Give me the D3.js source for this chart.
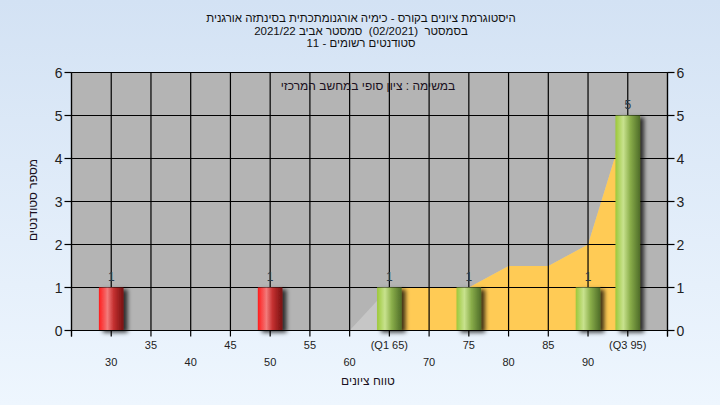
<!DOCTYPE html>
<html><head><meta charset="utf-8">
<script src="https://cdn.jsdelivr.net/npm/d3@7"></script>
<style>body{margin:0}svg{display:block}text{font-family:"Liberation Sans",Arial,sans-serif;white-space:pre}</style>
</head><body><svg width="720" height="405"></svg>
<script>
const titleLines = ["היסטוגרמת ציונים בקורס - כימיה אורגנומתכתית בסינתזה אורגנית", "בסמסטר  (02/2021)  סמסטר אביב 2021/22", "סטודנטים רשומים - 11"];
const noteText = "במשימה : ציון סופי במחשב המרכזי";
const xTitle = "טווח ציונים";
const yTitle = "מספר סטודנטים";
const tickValues = [30,35,40,45,50,55,60,65,70,75,80,85,90,95];
const tickLabels = ["30","35","40","45","50","55","60","(Q1 65)","70","75","80","85","90","(Q3 95)"];
const barGrades = [30,50,65,75,90,95];
const barCounts = [1,1,1,1,1,5];
const barKinds = ["red","red","green","green","green","green"];
const grayGrades = [60,65,70,75,80,85,90,95];
const grayValues = [0,1,1,1,1.5,1.5,2,5];
const iqrGrades = [65,70,75,80,85,90,95];
const iqrValues = [1,1,1,1.5,1.5,2,5];
const yTicks = [0,1,2,3,4,5,6];

const svg = d3.select("svg");
const W = 720, H = 405;
const defs = svg.append("defs");
const bg = defs.append("linearGradient").attr("id","bg").attr("x1",0).attr("y1",0).attr("x2",0).attr("y2",1);
bg.append("stop").attr("offset",0).attr("stop-color","#d3e2f4");
bg.append("stop").attr("offset",1).attr("stop-color","#eef6fe");
const gr = defs.append("linearGradient").attr("id","red");
[[0,"#ff1c1c"],[0.35,"#f27a7a"],[0.6,"#c43030"],[1,"#761010"]].forEach(s=>gr.append("stop").attr("offset",s[0]).attr("stop-color",s[1]));
const gg = defs.append("linearGradient").attr("id","green");
[[0,"#9cc83a"],[0.32,"#c8e28e"],[0.6,"#8aae4a"],[1,"#4e6c28"]].forEach(s=>gg.append("stop").attr("offset",s[0]).attr("stop-color",s[1]));
const f = defs.append("filter").attr("id","sh").attr("x","-20%").attr("y","-20%").attr("width","160%").attr("height","140%");
f.append("feDropShadow").attr("dx",4).attr("dy",2).attr("stdDeviation",2).attr("flood-color","#000").attr("flood-opacity",0.75);

svg.append("rect").attr("width",W).attr("height",H).attr("fill","url(#bg)");

const x = d3.scaleLinear().domain([25,100]).range([71.5,667.5]);
const y = d3.scaleLinear().domain([0,6]).range([330.5,72.5]);

svg.append("rect").attr("x",x(25)).attr("y",y(6)).attr("width",x(100)-x(25)).attr("height",y(0)-y(6)).attr("fill","#b4b4b4");

const area = d3.area().x(d=>x(d[0])).y0(y(0)).y1(d=>y(d[1]));
svg.append("path").attr("d",area(grayGrades.map((g,i)=>[g,grayValues[i]]))).attr("fill","#c6c6c6");
svg.append("path").attr("d",area(iqrGrades.map((g,i)=>[g,iqrValues[i]]))).attr("fill","#ffcb55");

const grid = svg.append("g").attr("stroke","#000").attr("stroke-width",1.2);
d3.range(25,101,5).forEach(v=>grid.append("line").attr("x1",x(v)).attr("x2",x(v)).attr("y1",y(6)).attr("y2",y(0)));
yTicks.forEach(v=>grid.append("line").attr("x1",x(25)).attr("x2",x(100)).attr("y1",y(v)).attr("y2",y(v)));

svg.append("text").attr("x",368).attr("y",90).attr("text-anchor","middle").attr("direction","rtl").attr("font-size",12).attr("fill","#1a1020").text(noteText);

const bw = (x(5)-x(0))*0.62;
const bars = svg.append("g");
barGrades.forEach((g,i)=>{
  bars.append("rect").attr("x",x(g)-bw/2).attr("y",y(barCounts[i])).attr("width",bw).attr("height",y(0)-y(barCounts[i]))
    .attr("fill",`url(#${barKinds[i]})`).attr("filter","url(#sh)");
  svg.append("text").attr("x",x(g)).attr("y",y(barCounts[i])-7).attr("text-anchor","middle").attr("font-size",12).attr("fill","#2a3a48").text(barCounts[i]);
});

const ax = svg.append("g").attr("stroke","#000").attr("stroke-width",1.2);
ax.append("line").attr("x1",x(25)).attr("x2",x(25)).attr("y1",y(6)).attr("y2",y(0)+6);
ax.append("line").attr("x1",x(100)).attr("x2",x(100)).attr("y1",y(6)).attr("y2",y(0)+6);
ax.append("line").attr("x1",x(25)).attr("x2",x(100)).attr("y1",y(0)).attr("y2",y(0));
d3.range(25,101,5).forEach(v=>ax.append("line").attr("x1",x(v)).attr("x2",x(v)).attr("y1",y(0)).attr("y2",y(0)+6));
yTicks.forEach(v=>{
  ax.append("line").attr("x1",x(25)-7).attr("x2",x(25)).attr("y1",y(v)).attr("y2",y(v));
  ax.append("line").attr("x1",x(100)).attr("x2",x(100)+7).attr("y1",y(v)).attr("y2",y(v));
  svg.append("text").attr("x",x(25)-9).attr("y",y(v)+5).attr("text-anchor","end").attr("font-size",14).attr("fill","#222").text(v);
  svg.append("text").attr("x",x(100)+9).attr("y",y(v)+5).attr("text-anchor","start").attr("font-size",14).attr("fill","#222").text(v);
});
tickValues.forEach((v,i)=>{
  svg.append("text").attr("x",x(v)).attr("y",i%2? 349:366).attr("text-anchor","middle").attr("font-size",11).attr("fill","#222").text(tickLabels[i]);
});
svg.append("text").attr("x",368).attr("y",385).attr("text-anchor","middle").attr("direction","rtl").attr("font-size",12).attr("fill","#1a1020").text(xTitle);
svg.append("text").attr("transform","translate(37,200) rotate(-90)").attr("text-anchor","middle").attr("direction","rtl").attr("font-size",12).attr("fill","#1a1020").text(yTitle);

titleLines.forEach((t,i)=>svg.append("text").attr("x",361).attr("y",22+i*12.5).attr("text-anchor","middle").attr("direction","rtl").attr("font-size",11.5).attr("fill","#111").text(t));
</script></body></html>
